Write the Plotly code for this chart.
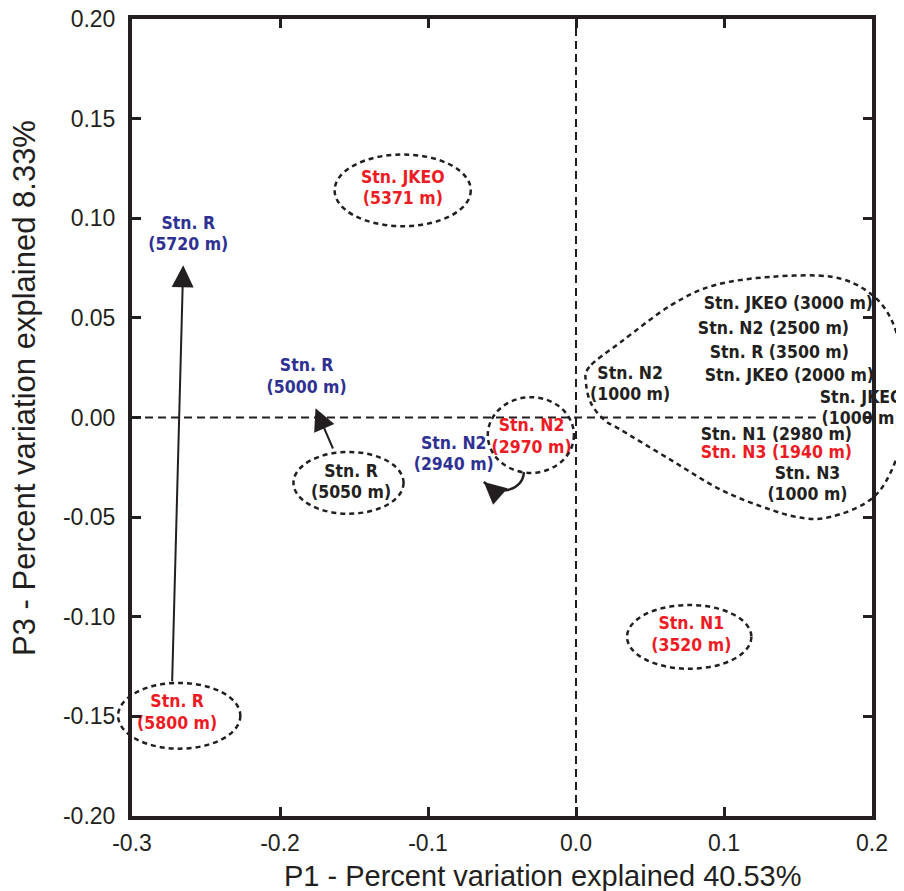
import numpy as np
import plotly.graph_objects as go

# ---------------- data ----------------
X_RANGE = [-0.3, 0.2]
Y_RANGE = [-0.2, 0.2]
x_tick_vals = [-0.3, -0.2, -0.1, 0.0, 0.1, 0.2]
x_tick_text = ["-0.3", "-0.2", "-0.1", "0.0", "0.1", "0.2"]
y_tick_vals = [-0.2, -0.15, -0.1, -0.05, 0.0, 0.05, 0.1, 0.15, 0.2]
y_tick_text = ["-0.20", "-0.15", "-0.10", "-0.05", "0.00", "0.05", "0.10", "0.15", "0.20"]

x_title = "P1 - Percent variation explained 40.53%"
y_title = "P3 - Percent variation explained 8.33%"

label_text = [
    "Stn. JKEO\n(5371 m)", "Stn. R\n(5720 m)", "Stn. R\n(5000 m)", "Stn. R\n(5050 m)",
    "Stn. N2\n(2940 m)", "Stn. N2\n(2970 m)", "Stn. R\n(5800 m)", "Stn. N1\n(3520 m)",
    "Stn. JKEO (3000 m)", "Stn. N2 (2500 m)", "Stn. R (3500 m)", "Stn. JKEO (2000 m)",
    "Stn. N2\n(1000 m)", "Stn. JKEO\n(1000 m)", "Stn. N1 (2980 m)", "Stn. N3 (1940 m)",
    "Stn. N3\n(1000 m)",
]
label_x = [-0.117, -0.262, -0.182, -0.152, -0.0826, -0.030, -0.2695, 0.0779,
           0.1435, 0.1334, 0.1374, 0.1442, 0.0366, 0.193, 0.1354, 0.1354, 0.1564]
label_y = [0.1145, 0.0915, 0.020, -0.033, -0.019, -0.0101, -0.1487, -0.1096,
           0.0564, 0.0443, 0.0323, 0.0203, 0.0163, 0.0042, -0.0089, -0.0179, -0.034]
label_group = ["red", "blue", "blue", "black", "blue", "red", "red", "red",
               "black", "black", "black", "black", "black", "black", "black", "red", "black"]

# dashed ellipses around single samples (centre / half-axes, data units)
ell_cx = [-0.1171, -0.1537, -0.0305, -0.2681, 0.0765]
ell_cy = [0.1140, -0.0328, -0.0088, -0.1497, -0.1101]
ell_rx = [0.046, 0.0372, 0.0291, 0.0413, 0.042]
ell_ry = [0.018, 0.0155, 0.019, 0.0165, 0.016]

# outline of the shallow-sample cluster (data units)
cluster_x = [0.0090, 0.0068, 0.0102, 0.0192, 0.0305, 0.0643, 0.0982, 0.1320, 0.1546,
             0.1726, 0.1952, 0.2087, 0.2200, 0.2223, 0.2223, 0.2133, 0.1975, 0.1726,
             0.1320, 0.0936, 0.0643, 0.0305]
cluster_y = [0.0254, 0.0171, 0.0071, -0.0013, -0.0063, -0.0214, -0.0364, -0.0464, -0.0506,
             -0.0498, -0.0431, -0.0330, -0.0130, 0.0037, 0.0238, 0.0488, 0.0630, 0.0706,
             0.0706, 0.0664, 0.0564, 0.0380]

# straight arrows (tail -> head)
arrow_tail_x = [-0.2729, -0.1638]
arrow_tail_y = [-0.1332, -0.0163]
arrow_head_x = [-0.2654, -0.1760]
arrow_head_y = [0.0764, 0.0047]

# curved arrow (cubic bezier: start, c1, c2, end)
curve_x = [-0.0352, -0.0359, -0.0508, -0.0623]
curve_y = [-0.0274, -0.0364, -0.0399, -0.0324]

# ---------------- style ----------------
COLORS = {"red": "#ed1c24", "blue": "#2e3192", "black": "#231f20"}
INK = "#231f20"
LABEL_FONT = "DejaVu Sans Condensed, Liberation Sans Narrow, Arial Narrow, sans-serif"
AXIS_FONT = "Liberation Sans, Arial, Helvetica, sans-serif"
LINE_GAP = 0.0108  # data units between two label lines

BODY = 8  # default page margin of the html body
W, H = 904 - BODY, 891 - BODY
M = dict(l=124, r=32, t=11, b=75)
PW = W - M["l"] - M["r"]
PH = H - M["t"] - M["b"]


def px(x):
    return (x - X_RANGE[0]) / (X_RANGE[1] - X_RANGE[0])


def py(y):
    return (y - Y_RANGE[0]) / (Y_RANGE[1] - Y_RANGE[0])


def page_to_paper(X, Y):
    return (X - BODY - M["l"]) / PW, (H - M["b"] - (Y - BODY)) / PH


# expand labels into lines
tx, ty, tt, tc = [], [], [], []
for t, x, y, g in zip(label_text, label_x, label_y, label_group):
    lines = t.split("\n")
    n = len(lines)
    for i, ln in enumerate(lines):
        tx.append(x)
        ty.append(y + ((n - 1) / 2 - i) * LINE_GAP)
        tt.append("<b>" + ln + "</b>")
        tc.append(COLORS[g])

fig = go.Figure()
fig.add_trace(go.Scatter(
    x=tx, y=ty, text=tt, mode="text", textposition="middle center",
    textfont=dict(family=LABEL_FONT, size=17.5, color=tc),
    cliponaxis=False, hoverinfo="skip", showlegend=False,
))

shapes = []
# dashed zero lines
shapes.append(dict(type="line", xref="x", yref="y", x0=X_RANGE[0], x1=0.162, y0=0, y1=0,
                   line=dict(color=INK, width=2, dash="8px,5px"), layer="below"))
shapes.append(dict(type="line", xref="x", yref="y", x0=0, x1=0, y0=Y_RANGE[0], y1=Y_RANGE[1],
                   line=dict(color=INK, width=2, dash="8px,5px"), layer="below"))

# ellipses (paper refs so they are not clipped)
for cx, cy, rx, ry in zip(ell_cx, ell_cy, ell_rx, ell_ry):
    shapes.append(dict(type="circle", xref="paper", yref="paper",
                       x0=px(cx - rx), x1=px(cx + rx), y0=py(cy - ry), y1=py(cy + ry),
                       line=dict(color=INK, width=2.5, dash="5px,4px")))

# cluster outline: closed Catmull-Rom spline
P = np.column_stack([[px(v) for v in cluster_x], [py(v) for v in cluster_y]])
n = len(P)
path = f"M {P[0,0]:.5f},{P[0,1]:.5f}"
for i in range(n):
    p0, p1, p2, p3 = P[(i - 1) % n], P[i], P[(i + 1) % n], P[(i + 2) % n]
    c1 = p1 + (p2 - p0) / 6
    c2 = p2 - (p3 - p1) / 6
    path += f" C {c1[0]:.5f},{c1[1]:.5f} {c2[0]:.5f},{c2[1]:.5f} {p2[0]:.5f},{p2[1]:.5f}"
path += " Z"
shapes.append(dict(type="path", xref="paper", yref="paper", path=path,
                   line=dict(color=INK, width=2.5, dash="5px,4px")))

# curved arrow body
cp = [(px(a), py(b)) for a, b in zip(curve_x, curve_y)]
cpath = (f"M {cp[0][0]:.5f},{cp[0][1]:.5f} C {cp[1][0]:.5f},{cp[1][1]:.5f} "
         f"{cp[2][0]:.5f},{cp[2][1]:.5f} {cp[3][0]:.5f},{cp[3][1]:.5f}")
shapes.append(dict(type="path", xref="paper", yref="paper", path=cpath,
                   line=dict(color=INK, width=2.5)))

annotations = []
for x0, y0, x1, y1 in zip(arrow_tail_x, arrow_tail_y, arrow_head_x, arrow_head_y):
    annotations.append(dict(x=x1, y=y1, ax=x0, ay=y0, xref="x", yref="y", axref="x", ayref="y",
                            text="", showarrow=True, arrowhead=2, arrowsize=2.2,
                            arrowwidth=2, arrowcolor=INK, standoff=0, startstandoff=0))
# arrowhead of curved arrow
hx, hy = curve_x[3], curve_y[3]
annotations.append(dict(x=hx, y=hy, ax=curve_x[2] + 0.6 * (hx - curve_x[2]),
                        ay=curve_y[2] + 0.6 * (hy - curve_y[2]),
                        xref="x", yref="y", axref="x", ayref="y",
                        text="", showarrow=True, arrowhead=2, arrowsize=2.2,
                        arrowwidth=2, arrowcolor=INK, standoff=0))
# axis titles
xt = page_to_paper(542.5, 876)
annotations.append(dict(text=x_title, xref="paper", yref="paper", x=xt[0], y=xt[1],
                        showarrow=False, xanchor="center", yanchor="middle",
                        font=dict(family=AXIS_FONT, size=29, color=INK)))
yt = page_to_paper(24, 388)
annotations.append(dict(text=y_title, xref="paper", yref="paper", x=yt[0], y=yt[1],
                        showarrow=False, xanchor="center", yanchor="middle",
                        textangle=-90, font=dict(family=AXIS_FONT, size=31, color=INK)))

axis_common = dict(showline=True, mirror="ticks", linewidth=4, linecolor=INK,
                   ticks="inside", ticklen=9, tickwidth=3, tickcolor=INK,
                   showgrid=False, zeroline=False, automargin=False,
                   ticklabeloverflow="allow",
                   tickfont=dict(family=AXIS_FONT, size=23, color=INK))

fig.update_layout(
    width=W, height=H, margin=M,
    paper_bgcolor="white", plot_bgcolor="white",
    xaxis=dict(range=X_RANGE, tickvals=x_tick_vals, ticktext=x_tick_text,
               ticklabelstandoff=3, **axis_common),
    yaxis=dict(range=Y_RANGE, tickvals=y_tick_vals, ticktext=y_tick_text,
               ticklabelstandoff=8, **axis_common),
    shapes=shapes, annotations=annotations, showlegend=False,
)

fig.write_html("out.html")
